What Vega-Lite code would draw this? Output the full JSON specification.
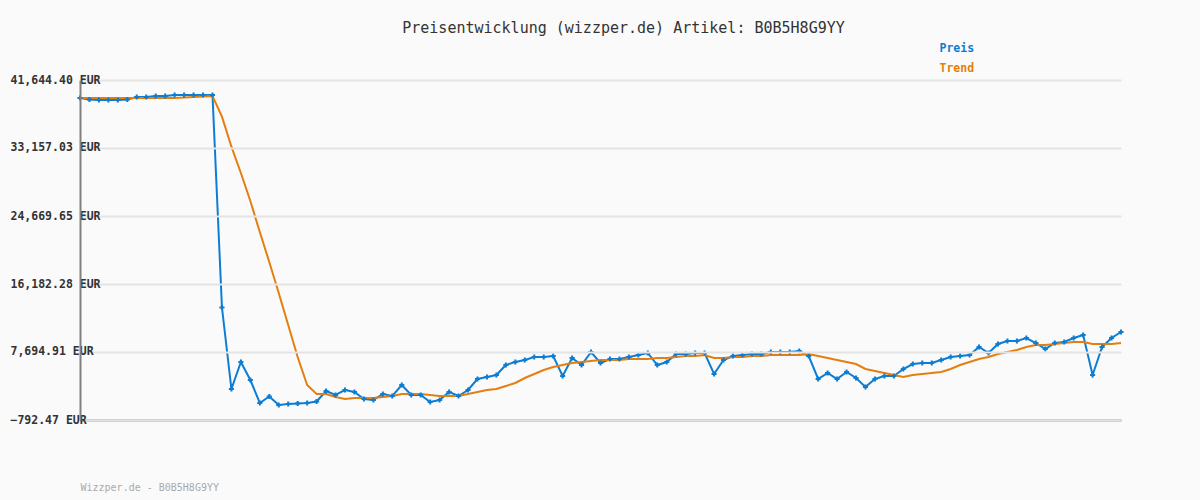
{
  "$schema": "https://vega.github.io/schema/vega-lite/v6.json",
  "width": 1041,
  "height": 340,
  "autosize": {"type": "none"},
  "padding": {"left": 80, "top": 80, "right": 79, "bottom": 80},
  "background": "#fafafa",
  "title": {
    "text": "Preisentwicklung (wizzper.de) Artikel: B0B5H8G9YY",
    "font": "DejaVu Sans Mono",
    "fontSize": 15,
    "fontWeight": "normal",
    "color": "#333333",
    "anchor": "middle",
    "frame": "group",
    "dx": 23,
    "offset": 7
  },
  "config": {
    "view": {"stroke": null}
  },
  "data": {
    "values": [
      {"i":0,"serie":"Preis","wert":39397.7},{"i":1,"serie":"Preis","wert":39210.5},{"i":2,"serie":"Preis","wert":39148.1},{"i":3,"serie":"Preis","wert":39148.1},{"i":4,"serie":"Preis","wert":39148.1},{"i":5,"serie":"Preis","wert":39210.5},{"i":6,"serie":"Preis","wert":39522.6},{"i":7,"serie":"Preis","wert":39522.6},{"i":8,"serie":"Preis","wert":39647.4},{"i":9,"serie":"Preis","wert":39647.4},
      {"i":10,"serie":"Preis","wert":39772.2},{"i":11,"serie":"Preis","wert":39772.2},{"i":12,"serie":"Preis","wert":39772.2},{"i":13,"serie":"Preis","wert":39772.2},{"i":14,"serie":"Preis","wert":39772.2},{"i":15,"serie":"Preis","wert":13249.2},{"i":16,"serie":"Preis","wert":3076.9},{"i":17,"serie":"Preis","wert":6446.9},{"i":18,"serie":"Preis","wert":4200.2},{"i":19,"serie":"Preis","wert":1329.5},
      {"i":20,"serie":"Preis","wert":2140.8},{"i":21,"serie":"Preis","wert":1079.8},{"i":22,"serie":"Preis","wert":1204.7},{"i":23,"serie":"Preis","wert":1267.1},{"i":24,"serie":"Preis","wert":1329.5},{"i":25,"serie":"Preis","wert":1516.7},{"i":26,"serie":"Preis","wert":2827.2},{"i":27,"serie":"Preis","wert":2328.0},{"i":28,"serie":"Preis","wert":2952.1},{"i":29,"serie":"Preis","wert":2702.4},
      {"i":30,"serie":"Preis","wert":1828.7},{"i":31,"serie":"Preis","wert":1703.9},{"i":32,"serie":"Preis","wert":2452.8},{"i":33,"serie":"Preis","wert":2203.2},{"i":34,"serie":"Preis","wert":3576.1},{"i":35,"serie":"Preis","wert":2328.0},{"i":36,"serie":"Preis","wert":2328.0},{"i":37,"serie":"Preis","wert":1454.3},{"i":38,"serie":"Preis","wert":1703.9},{"i":39,"serie":"Preis","wert":2702.4},
      {"i":40,"serie":"Preis","wert":2203.2},{"i":41,"serie":"Preis","wert":2952.1},{"i":42,"serie":"Preis","wert":4325.0},{"i":43,"serie":"Preis","wert":4574.6},{"i":44,"serie":"Preis","wert":4824.3},{"i":45,"serie":"Preis","wert":6072.4},{"i":46,"serie":"Preis","wert":6446.9},{"i":47,"serie":"Preis","wert":6696.5},{"i":48,"serie":"Preis","wert":7070.9},{"i":49,"serie":"Preis","wert":7070.9},
      {"i":50,"serie":"Preis","wert":7195.7},{"i":51,"serie":"Preis","wert":4699.5},{"i":52,"serie":"Preis","wert":6946.1},{"i":53,"serie":"Preis","wert":6072.4},{"i":54,"serie":"Preis","wert":7695.0},{"i":55,"serie":"Preis","wert":6322.0},{"i":56,"serie":"Preis","wert":6821.3},{"i":57,"serie":"Preis","wert":6821.3},{"i":58,"serie":"Preis","wert":7070.9},{"i":59,"serie":"Preis","wert":7320.5},
      {"i":60,"serie":"Preis","wert":7570.2},{"i":61,"serie":"Preis","wert":6072.4},{"i":62,"serie":"Preis","wert":6446.9},{"i":63,"serie":"Preis","wert":7445.4},{"i":64,"serie":"Preis","wert":7445.4},{"i":65,"serie":"Preis","wert":7570.2},{"i":66,"serie":"Preis","wert":7570.2},{"i":67,"serie":"Preis","wert":4949.1},{"i":68,"serie":"Preis","wert":6696.5},{"i":69,"serie":"Preis","wert":7195.7},
      {"i":70,"serie":"Preis","wert":7320.5},{"i":71,"serie":"Preis","wert":7445.4},{"i":72,"serie":"Preis","wert":7445.4},{"i":73,"serie":"Preis","wert":7695.0},{"i":74,"serie":"Preis","wert":7695.0},{"i":75,"serie":"Preis","wert":7695.0},{"i":76,"serie":"Preis","wert":7819.8},{"i":77,"serie":"Preis","wert":7195.7},{"i":78,"serie":"Preis","wert":4325.0},{"i":79,"serie":"Preis","wert":5073.9},
      {"i":80,"serie":"Preis","wert":4325.0},{"i":81,"serie":"Preis","wert":5198.7},{"i":82,"serie":"Preis","wert":4449.8},{"i":83,"serie":"Preis","wert":3326.5},{"i":84,"serie":"Preis","wert":4325.0},{"i":85,"serie":"Preis","wert":4699.5},{"i":86,"serie":"Preis","wert":4699.5},{"i":87,"serie":"Preis","wert":5573.2},{"i":88,"serie":"Preis","wert":6197.2},{"i":89,"serie":"Preis","wert":6322.0},
      {"i":90,"serie":"Preis","wert":6322.0},{"i":91,"serie":"Preis","wert":6696.5},{"i":92,"serie":"Preis","wert":7070.9},{"i":93,"serie":"Preis","wert":7195.7},{"i":94,"serie":"Preis","wert":7320.5},{"i":95,"serie":"Preis","wert":8319.1},{"i":96,"serie":"Preis","wert":7570.2},{"i":97,"serie":"Preis","wert":8693.5},{"i":98,"serie":"Preis","wert":9067.9},{"i":99,"serie":"Preis","wert":9067.9},
      {"i":100,"serie":"Preis","wert":9442.4},{"i":101,"serie":"Preis","wert":8818.3},{"i":102,"serie":"Preis","wert":8069.4},{"i":103,"serie":"Preis","wert":8818.3},{"i":104,"serie":"Preis","wert":8943.1},{"i":105,"serie":"Preis","wert":9442.4},{"i":106,"serie":"Preis","wert":9816.8},{"i":107,"serie":"Preis","wert":4824.3},{"i":108,"serie":"Preis","wert":8319.1},{"i":109,"serie":"Preis","wert":9442.4},
      {"i":110,"serie":"Preis","wert":10191.3},
      {"i":0,"serie":"Trend","wert":39397.7},{"i":1,"serie":"Trend","wert":39397.7},{"i":2,"serie":"Trend","wert":39397.7},{"i":3,"serie":"Trend","wert":39397.7},{"i":4,"serie":"Trend","wert":39397.7},{"i":5,"serie":"Trend","wert":39397.7},{"i":6,"serie":"Trend","wert":39397.7},{"i":7,"serie":"Trend","wert":39397.7},{"i":8,"serie":"Trend","wert":39397.7},{"i":9,"serie":"Trend","wert":39397.7},
      {"i":10,"serie":"Trend","wert":39397.7},{"i":11,"serie":"Trend","wert":39460.0},{"i":12,"serie":"Trend","wert":39522.6},{"i":13,"serie":"Trend","wert":39585.0},{"i":14,"serie":"Trend","wert":39647.4},{"i":15,"serie":"Trend","wert":37063.7},{"i":16,"serie":"Trend","wert":33319.3},{"i":17,"serie":"Trend","wert":30036.7},{"i":18,"serie":"Trend","wert":26541.9},{"i":19,"serie":"Trend","wert":22672.7},
      {"i":20,"serie":"Trend","wert":18928.3},{"i":21,"serie":"Trend","wert":15059.0},{"i":22,"serie":"Trend","wert":11065.0},{"i":23,"serie":"Trend","wert":7070.9},{"i":24,"serie":"Trend","wert":3576.1},{"i":25,"serie":"Trend","wert":2452.8},{"i":26,"serie":"Trend","wert":2452.8},{"i":27,"serie":"Trend","wert":2078.4},{"i":28,"serie":"Trend","wert":1828.7},{"i":29,"serie":"Trend","wert":1953.5},
      {"i":30,"serie":"Trend","wert":1953.5},{"i":31,"serie":"Trend","wert":1953.5},{"i":32,"serie":"Trend","wert":2078.4},{"i":33,"serie":"Trend","wert":2203.2},{"i":34,"serie":"Trend","wert":2452.8},{"i":35,"serie":"Trend","wert":2452.8},{"i":36,"serie":"Trend","wert":2452.8},{"i":37,"serie":"Trend","wert":2328.0},{"i":38,"serie":"Trend","wert":2203.2},{"i":39,"serie":"Trend","wert":2203.2},
      {"i":40,"serie":"Trend","wert":2203.2},{"i":41,"serie":"Trend","wert":2452.8},{"i":42,"serie":"Trend","wert":2702.4},{"i":43,"serie":"Trend","wert":2952.1},{"i":44,"serie":"Trend","wert":3076.9},{"i":45,"serie":"Trend","wert":3451.3},{"i":46,"serie":"Trend","wert":3825.8},{"i":47,"serie":"Trend","wert":4449.8},{"i":48,"serie":"Trend","wert":4949.1},{"i":49,"serie":"Trend","wert":5448.3},
      {"i":50,"serie":"Trend","wert":5822.8},{"i":51,"serie":"Trend","wert":6072.4},{"i":52,"serie":"Trend","wert":6322.0},{"i":53,"serie":"Trend","wert":6446.9},{"i":54,"serie":"Trend","wert":6571.7},{"i":55,"serie":"Trend","wert":6696.5},{"i":56,"serie":"Trend","wert":6696.5},{"i":57,"serie":"Trend","wert":6696.5},{"i":58,"serie":"Trend","wert":6821.3},{"i":59,"serie":"Trend","wert":6821.3},
      {"i":60,"serie":"Trend","wert":6821.3},{"i":61,"serie":"Trend","wert":6946.1},{"i":62,"serie":"Trend","wert":6946.1},{"i":63,"serie":"Trend","wert":7070.9},{"i":64,"serie":"Trend","wert":7195.7},{"i":65,"serie":"Trend","wert":7195.7},{"i":66,"serie":"Trend","wert":7320.5},{"i":67,"serie":"Trend","wert":6946.1},{"i":68,"serie":"Trend","wert":6946.1},{"i":69,"serie":"Trend","wert":7070.9},
      {"i":70,"serie":"Trend","wert":7070.9},{"i":71,"serie":"Trend","wert":7195.7},{"i":72,"serie":"Trend","wert":7195.7},{"i":73,"serie":"Trend","wert":7320.5},{"i":74,"serie":"Trend","wert":7320.5},{"i":75,"serie":"Trend","wert":7320.5},{"i":76,"serie":"Trend","wert":7320.5},{"i":77,"serie":"Trend","wert":7445.4},{"i":78,"serie":"Trend","wert":7195.7},{"i":79,"serie":"Trend","wert":6946.1},
      {"i":80,"serie":"Trend","wert":6696.5},{"i":81,"serie":"Trend","wert":6446.9},{"i":82,"serie":"Trend","wert":6197.2},{"i":83,"serie":"Trend","wert":5573.2},{"i":84,"serie":"Trend","wert":5323.5},{"i":85,"serie":"Trend","wert":5073.9},{"i":86,"serie":"Trend","wert":4824.3},{"i":87,"serie":"Trend","wert":4574.6},{"i":88,"serie":"Trend","wert":4824.3},{"i":89,"serie":"Trend","wert":4949.1},
      {"i":90,"serie":"Trend","wert":5073.9},{"i":91,"serie":"Trend","wert":5198.7},{"i":92,"serie":"Trend","wert":5573.2},{"i":93,"serie":"Trend","wert":6072.4},{"i":94,"serie":"Trend","wert":6446.9},{"i":95,"serie":"Trend","wert":6821.3},{"i":96,"serie":"Trend","wert":7070.9},{"i":97,"serie":"Trend","wert":7445.4},{"i":98,"serie":"Trend","wert":7695.0},{"i":99,"serie":"Trend","wert":7944.6},
      {"i":100,"serie":"Trend","wert":8319.1},{"i":101,"serie":"Trend","wert":8568.7},{"i":102,"serie":"Trend","wert":8568.7},{"i":103,"serie":"Trend","wert":8693.5},{"i":104,"serie":"Trend","wert":8818.3},{"i":105,"serie":"Trend","wert":8943.1},{"i":106,"serie":"Trend","wert":8943.1},{"i":107,"serie":"Trend","wert":8693.5},{"i":108,"serie":"Trend","wert":8693.5},{"i":109,"serie":"Trend","wert":8693.5},
      {"i":110,"serie":"Trend","wert":8818.3}
    ]
  },
  "encoding": {
    "x": {
      "field": "i",
      "type": "quantitative",
      "scale": {"domain": [0, 110], "nice": false, "zero": false},
      "axis": {
        "title": "Wizzper.de - B0B5H8G9YY",
        "titleFont": "DejaVu Sans Mono",
        "titleFontSize": 10,
        "titleFontWeight": "normal",
        "titleColor": "#aaaaaa",
        "titleAnchor": "start",
        "titleAlign": "left",
        "titleBaseline": "middle",
        "titleX": 0,
        "titleY": 67,
        "labels": false,
        "ticks": false,
        "grid": false,
        "domainColor": "#808080",
        "domainWidth": 2
      }
    },
    "y": {
      "field": "wert",
      "type": "quantitative",
      "scale": {"domain": [-792.47, 41644.40], "nice": false, "zero": false},
      "axis": {
        "title": null,
        "values": [-792.47, 7694.91, 16182.28, 24669.65, 33157.03, 41644.40],
        "labelExpr": "format(datum.value, ',.2f') + ' EUR'",
        "labelFont": "DejaVu Sans Mono",
        "labelFontSize": 11.5,
        "labelFontWeight": "bold",
        "labelColor": "#333333",
        "labelAlign": "left",
        "labelBaseline": "middle",
        "labelPadding": 70,
        "labelOverlap": false,
        "labelBound": false,
        "ticks": false,
        "grid": true,
        "gridColor": "#e3e3e3",
        "gridWidth": 2,
        "domainColor": "#808080",
        "domainWidth": 2,
        "zindex": 1
      }
    },
    "color": {
      "field": "serie",
      "type": "nominal",
      "scale": {"domain": ["Preis", "Trend"], "range": ["#0d7dd4", "#e47f0f"]},
      "legend": {
        "title": null,
        "orient": "none",
        "legendX": 848,
        "legendY": -37,
        "symbolSize": 0,
        "symbolOpacity": 0,
        "symbolStrokeWidth": 0,
        "labelOffset": 0,
        "padding": 0,
        "rowPadding": 7,
        "labelFont": "DejaVu Sans Mono",
        "labelFontSize": 11.5,
        "labelFontWeight": "bold",
        "labelColor": {"expr": "datum.label === 'Preis' ? '#0d7dd4' : '#e47f0f'"}
      }
    }
  },
  "layer": [
    {
      "mark": {"type": "line", "strokeWidth": 2},
      "encoding": {}
    },
    {
      "transform": [{"filter": "datum.serie === 'Preis'"}],
      "mark": {"type": "point", "shape": "cross", "filled": true, "size": 26, "opacity": 1},
      "encoding": {}
    }
  ]
}
